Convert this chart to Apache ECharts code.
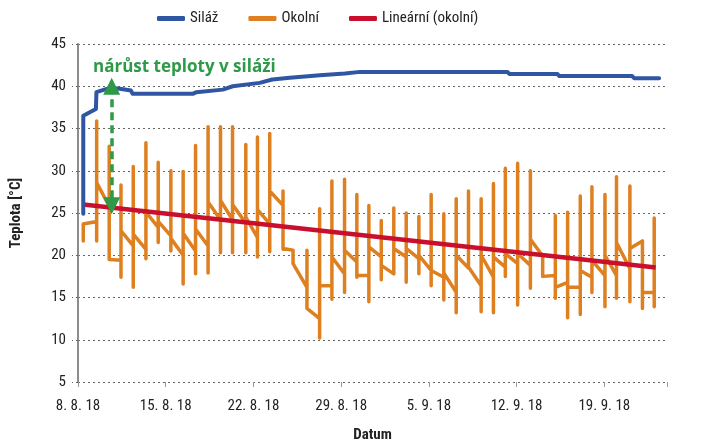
<!DOCTYPE html>
<html><head><meta charset="utf-8">
<script src="https://cdn.jsdelivr.net/npm/echarts@6/dist/echarts.min.js"></script>
<style>html,body{margin:0;padding:0;background:#fff}#c{width:713px;height:448px}</style>
</head><body><div id="c"></div>
<script>
// ---- data (days since 8. 8. 2018) ----
const xTickLabels = ['8. 8. 18','15. 8. 18','22. 8. 18','29. 8. 18','5. 9. 18','12. 9. 18','19. 9. 18'];
const seriesNames = ['Siláž','Okolní','Lineární (okolní)'];

const silazDay  = [0.42,0.42,1.43,1.47,2.55,3.35,4.22,4.36,9.16,9.45,11.55,12.35,14.5,15.5,16.9,19.3,21.3,22.5,34.26,34.42,38.25,38.41,44.22,44.38,46.37];
const silazTemp = [24.9,36.5,37.3,39.3,39.8,39.7,39.5,39.1,39.1,39.3,39.6,40.0,40.4,40.8,41.0,41.3,41.5,41.7,41.7,41.45,41.45,41.2,41.2,40.95,40.95];

const okolniDay = [0.42,1.49,2.49,3.43,4.41,5.42,6.40,7.41,8.39,9.38,10.38,11.37,12.33,13.39,14.32,15.30,16.36,17.16,18.27,19.28,20.26,21.27,22.25,23.21,24.20,25.20,26.19,27.20,28.18,29.19,30.18,31.16,32.17,33.15,34.10,35.08,36.10,37.08,38.09,39.07,40.08,41.01,42.05,42.97,44.04,45.04,45.98];
const okolniLo  = [21.7,21.7,19.5,17.4,16.2,19.6,21.5,20.5,16.6,17.8,17.9,20.3,20.3,20.3,19.8,20.4,20.7,19.0,13.7,10.2,14.8,15.6,17.4,14.5,17.1,17.8,16.8,17.8,16.4,14.7,13.2,18.6,13.3,13.2,17.5,14.1,16.1,17.5,14.9,12.6,13.0,15.6,13.9,14.9,14.5,13.7,13.9];
const okolniHi  = [23.7,35.9,32.9,28.3,30.5,33.3,31.0,30.0,29.9,33.0,35.2,35.2,35.2,33.1,34.0,34.4,27.6,20.6,20.6,25.5,28.8,29.0,27.2,25.9,24.1,25.6,25.0,24.6,27.2,24.9,26.7,27.6,26.7,28.5,30.3,30.9,30.0,19.9,24.7,25.1,27.0,28.1,27.2,29.3,28.2,21.7,24.4];
const okolniIn  = [21.7,24.0,25.8,19.4,21.1,20.7,23.3,22.3,20.0,20.5,21.1,24.2,24.2,23.8,22.1,23.7,25.9,20.6,16.2,12.5,16.4,17.8,19.2,17.6,19.8,17.8,19.8,19.6,18.2,17.4,15.6,18.5,16.4,17.4,18.6,19.0,18.8,19.9,17.6,16.8,16.2,17.4,17.6,17.6,18.4,21.7,15.6];
const okolniOut = [23.7,28.6,19.5,22.9,22.5,25.1,24.0,22.0,22.6,23.1,26.3,26.5,26.0,24.5,25.4,27.6,20.8,19.0,13.7,16.4,19.8,20.6,17.6,21.0,18.8,20.8,20.8,20.0,18.2,17.9,20.0,18.6,20.0,19.8,20.2,20.2,21.9,17.5,16.2,16.2,18.2,19.4,20.0,21.5,20.8,15.6,24.4];

const trendDay  = [0.42, 46.1];
const trendTemp = [26.0, 18.55];

const annotationText = 'nárůst teploty v siláži';
const arrowDay = 2.69, arrowTop = 40.0, arrowBottom = 25.85;
const annotationAnchor = [1.2, 41.97];

// ---- build ----
const FONT = '"Liberation Sans Narrow", "Roboto Condensed", Roboto, sans-serif';
const okolniPath = [];
okolniDay.forEach((d, i) => {
  okolniPath.push([d, okolniIn[i]], [d, okolniLo[i]], [d, okolniHi[i]], [d, okolniOut[i]]);
});
const silazData = silazDay.map((d, i) => [d, silazTemp[i]]);
const trendData = trendDay.map((d, i) => [d, trendTemp[i]]);

const C_BLUE = '#2f56a3', C_ORANGE = '#de7f20', C_RED = '#c8102e', C_GREEN = '#2e9a47';

const chart = echarts.init(document.getElementById('c'), null, {renderer: 'canvas'});
chart.setOption({
  animation: false,
  grid: {left: 78, right: 46, top: 44, bottom: 64},
  legend: {
    data: seriesNames, top: 6, left: 152, itemGap: 30,
    icon: 'roundRect', itemWidth: 28, itemHeight: 5,
    textStyle: {fontFamily: FONT, fontSize: 15, color: '#222'}
  },
  xAxis: {
    type: 'value', min: 0, max: 47, interval: 7,
    axisLine: {show: false},
    axisTick: {show: true, length: 5, lineStyle: {color: '#999', width: 1}},
    splitLine: {show: false},
    axisLabel: {margin: 17, fontFamily: FONT, fontSize: 15, color: '#222',
      formatter: v => xTickLabels[Math.round(v / 7)] || ''},
    name: 'Datum', nameLocation: 'middle', nameGap: 46,
    nameTextStyle: {fontFamily: FONT, fontSize: 15, color: '#222', fontWeight: 'bold'}
  },
  yAxis: {
    type: 'value', min: 5, max: 45, interval: 5,
    axisLine: {show: true, lineStyle: {color: '#8c8c8c', width: 2}},
    axisTick: {show: true, length: 6, lineStyle: {color: '#666', type: [2, 3]}},
    splitLine: {show: true, lineStyle: {color: '#666', width: 1, type: [2, 3]}},
    axisLabel: {margin: 12, fontFamily: FONT, fontSize: 15, color: '#222'},
    name: 'Teplota [°C]', nameLocation: 'middle', nameGap: 54,
    nameTextStyle: {fontFamily: FONT, fontSize: 15, color: '#222', fontWeight: 'bold'}
  },
  series: [
    {name: 'Okolní', type: 'line', data: okolniPath, showSymbol: false, symbol: 'none', z: 2,
      color: C_ORANGE, lineStyle: {color: C_ORANGE, width: 3.5, cap: 'round', join: 'round'}},
    {name: 'Lineární (okolní)', type: 'line', data: trendData, showSymbol: false, symbol: 'none', z: 3,
      color: C_RED, lineStyle: {color: C_RED, width: 4.5, cap: 'butt'},
      markLine: {silent: true, symbol: ['triangle', 'triangle'], symbolSize: 17,
        label: {show: false},
        lineStyle: {color: C_GREEN, width: 3.5, type: [8, 5]},
        data: [[{coord: [arrowDay, arrowTop]}, {coord: [arrowDay, arrowBottom]}]]}},
    {name: 'Siláž', type: 'line', data: silazData, showSymbol: false, symbol: 'none', z: 4,
      color: C_BLUE, lineStyle: {color: C_BLUE, width: 4, cap: 'round', join: 'round'}}
  ]
});
const p = chart.convertToPixel({gridIndex: 0}, annotationAnchor);
chart.setOption({graphic: [{type: 'text', left: p[0], top: p[1] - 11, z: 100,
  style: {text: annotationText, fill: C_GREEN, font: 'bold 17px "Open Sans", "Noto Sans", sans-serif'}}]});
</script></body></html>
